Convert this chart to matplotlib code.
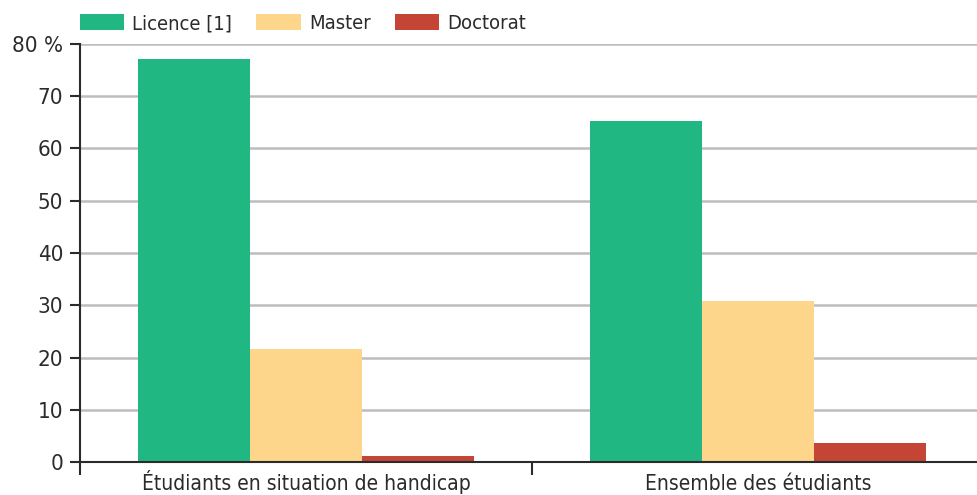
import numpy as np
import matplotlib
matplotlib.use('Agg')
import matplotlib.pyplot as plt

plt.rcParams['font.family'] = ['DejaVu Sans']
plt.rcParams['font.stretch'] = 'condensed'

categories = ['Étudiants en situation de handicap', 'Ensemble des étudiants']
series_names = ['Licence [1]', 'Master', 'Doctorat']
licence = [77.2, 65.3]
master = [21.6, 30.9]
doctorat = [1.1, 3.6]
yticks = [0, 10, 20, 30, 40, 50, 60, 70, 80]
ytick_labels = ['0', '10', '20', '30', '40', '50', '60', '70', '80 %']

colors = ['#21b783', '#fdd58b', '#c44536']
text_color = '#2b2b2b'

fig = plt.figure(figsize=(9.77, 4.95), dpi=100)
ax = fig.add_axes([80 / 977, 33 / 495, 897 / 977, 418 / 495])

x = np.arange(len(categories))
w = 0.248
for i, (vals, name) in enumerate(zip([licence, master, doctorat], series_names)):
    ax.bar(x + (i - 1) * w, vals, width=w, color=colors[i], label=name,
           edgecolor='none', zorder=3)

ax.set_xlim(-0.5, -0.5 + 897 / 452)
ax.set_ylim(0, 80)
ax.set_yticks(yticks)
ax.set_yticklabels(ytick_labels)
ax.set_xticks(x)
ax.set_xticklabels(categories, va='baseline')
ax.set_xticks([-0.5, 0.5], minor=True)

ax.yaxis.grid(True, color='#bdbdc1', linewidth=1.8, zorder=0)
ax.set_axisbelow(True)

for s in ['top', 'right']:
    ax.spines[s].set_visible(False)
for s in ['left', 'bottom']:
    ax.spines[s].set_color(text_color)
    ax.spines[s].set_linewidth(1.5)
    ax.spines[s].set_zorder(4)

ax.tick_params(axis='y', direction='out', length=7, width=1.5, color=text_color,
               labelsize=16, labelcolor=text_color, pad=5)
ax.tick_params(axis='x', which='major', length=0, labelsize=15,
               labelcolor=text_color, pad=20)
ax.tick_params(axis='x', which='minor', direction='out', length=9, width=1.5,
               color=text_color)

fig.legend(loc='upper left', bbox_to_anchor=(80 / 977, 1 - 14 / 495), ncol=3,
           frameon=False, fontsize=14.5, handlelength=2.2, handleheight=0.85,
           handletextpad=0.4, columnspacing=1.2, borderpad=0, borderaxespad=0,
           labelcolor=text_color)

fig.savefig('out.png', dpi=100)
